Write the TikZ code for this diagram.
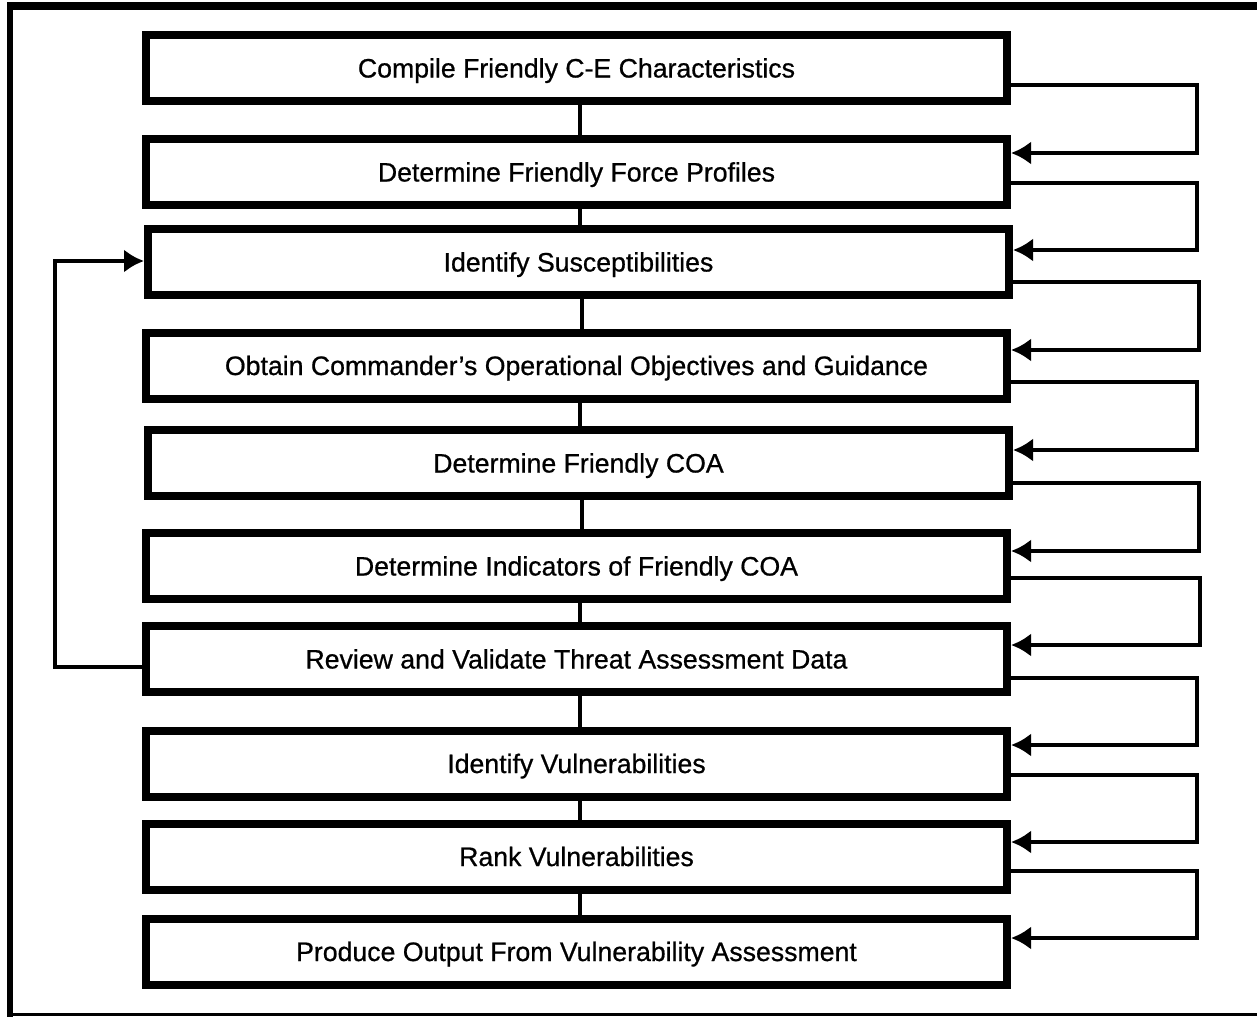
\documentclass[tikz,border=0pt]{standalone}
\usepackage{fontspec}
\setmainfont{Liberation Sans}
\font\boxfont="Liberation Sans:embolden=0.7" at 16pt
\usetikzlibrary{calc,arrows.meta}
\begin{document}
\begin{tikzpicture}[x=0.6pt,y=-0.6pt,
  stepbox/.style={draw,line width=4.8pt,minimum width=516.6pt,minimum height=39.6pt,
    inner sep=0pt,text height=12pt,text depth=0.6pt,font=\boxfont},
  link/.style={line width=2.1pt},
  conn/.style={line width=2.4pt,-{Latex[length=12pt,width=14pt]}}]
\useasboundingbox (0,0) rectangle (1257,1016);
% frame
\draw[line width=4.8pt] (7,6) -- (1270,6);
\draw[line width=3.8pt] (10,2) -- (10,1020);
\draw[line width=1.8pt] (10,1014.5) -- (1270,1014.5);
% boxes
\node[stepbox] (b1) at (576.5,68) {Compile Friendly C-E Characteristics};
\node[stepbox] (b2) at (576.5,172) {Determine Friendly Force Profiles};
\node[stepbox] (b3) at (578.5,262) {Identify Susceptibilities};
\node[stepbox] (b4) at (576.5,365.5) {Obtain Commander’s Operational Objectives and Guidance};
\node[stepbox] (b5) at (578.5,463) {Determine Friendly COA};
\node[stepbox] (b6) at (576.5,566) {Determine Indicators of Friendly COA};
\node[stepbox] (b7) at (576.5,659) {Review and Validate Threat Assessment Data};
\node[stepbox] (b8) at (576.5,763.5) {Identify Vulnerabilities};
\node[stepbox] (b9) at (576.5,856.5) {Rank Vulnerabilities};
\node[stepbox] (b10) at (576.5,951.5) {Produce Output From Vulnerability Assessment};
% vertical links
\foreach \a/\b in {b1/b2,b2/b3,b3/b4,b4/b5,b5/b6,b6/b7,b7/b8,b8/b9,b9/b10}
  \draw[link] ([xshift=2pt]\a.south) -- ([xshift=2pt]\a.south |- \b.north);
% right feedback loops
\draw[conn] ($(b1.east)+(0,17)$) -- ++(186,0) |- ($(b2.east)+(0,-19)$);
\draw[conn] ($(b2.east)+(0,11)$) -- ++(186,0) |- ($(b3.east)+(0,-12)$);
\draw[conn] ($(b3.east)+(0,20)$) -- ++(186,0) |- ($(b4.east)+(0,-15.5)$);
\draw[conn] ($(b4.east)+(0,16.5)$) -- ++(186,0) |- ($(b5.east)+(0,-13)$);
\draw[conn] ($(b5.east)+(0,20)$) -- ++(186,0) |- ($(b6.east)+(0,-15)$);
\draw[conn] ($(b6.east)+(0,12)$) -- ++(189,0) |- ($(b7.east)+(0,-14)$);
\draw[conn] ($(b7.east)+(0,19)$) -- ++(186,0) |- ($(b8.east)+(0,-18.5)$);
\draw[conn] ($(b8.east)+(0,11.5)$) -- ++(186,0) |- ($(b9.east)+(0,-14.5)$);
\draw[conn] ($(b9.east)+(0,14.5)$) -- ++(186,0) |- ($(b10.east)+(0,-13.5)$);
% left loop
\draw[conn] ($(b7.west)+(0,8)$) -- ++(-87,0) |- ($(b3.west)+(0,-1)$);
\end{tikzpicture}
\end{document}
